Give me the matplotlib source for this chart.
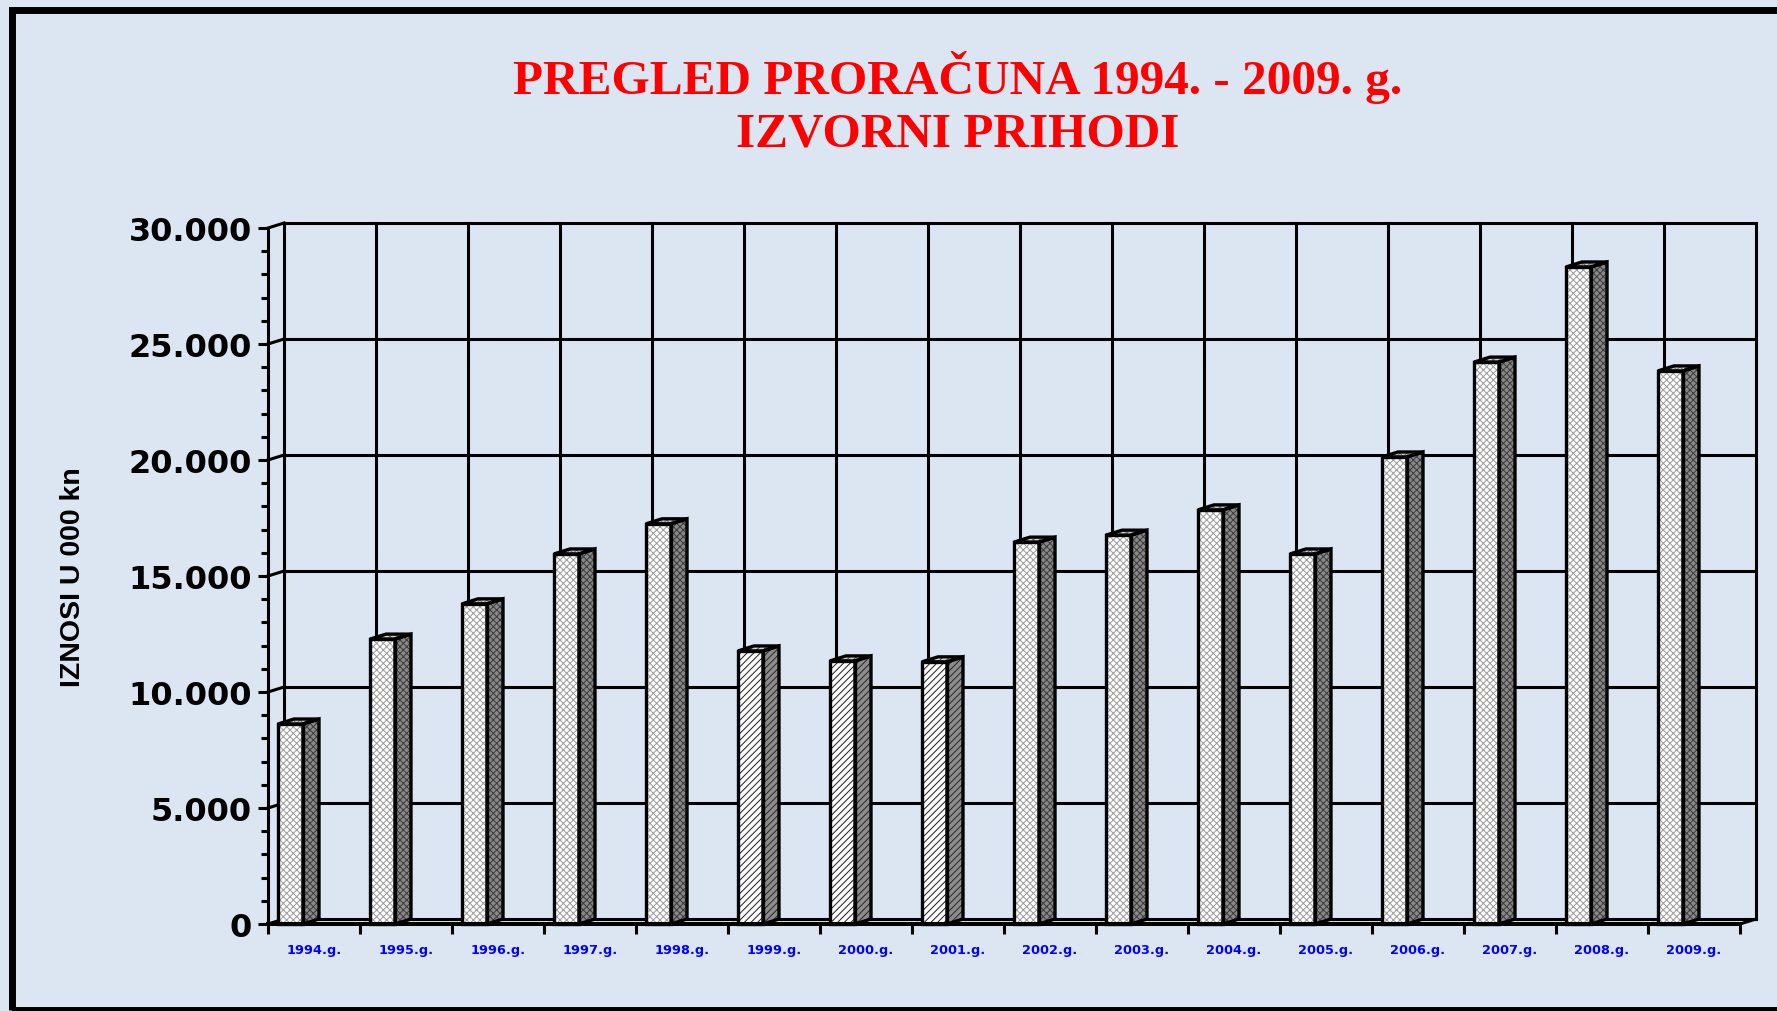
import matplotlib

matplotlib.use("Agg")
import matplotlib.pyplot as plt
from matplotlib.patches import Polygon, Rectangle
from matplotlib.ticker import MultipleLocator

# data (iznosi u 000 kn)
years = ["1994.g.", "1995.g.", "1996.g.", "1997.g.", "1998.g.", "1999.g.",
         "2000.g.", "2001.g.", "2002.g.", "2003.g.", "2004.g.", "2005.g.",
         "2006.g.", "2007.g.", "2008.g.", "2009.g."]
prihodi = [8620, 12280, 13800, 15950, 17250, 11770, 11340, 11300,
           16460, 16760, 17850, 15950, 20130, 24220, 28320, 23840]
diagonal_years = ["1999.g.", "2000.g.", "2001.g."]
y_ticks = [0, 5000, 10000, 15000, 20000, 25000, 30000]

title_1 = "PREGLED PRORAČUNA 1994. - 2009. g."
title_2 = "IZVORNI PRIHODI"
y_label = "IZNOSI U 000 kn"

BG = "#dce6f2"
W, H, DPI = 1777, 1012, 100

plt.rcParams["hatch.linewidth"] = 0.7

fig = plt.figure(figsize=(W / DPI, H / DPI), dpi=DPI, facecolor=BG)

# front plane of the axes, in pixels
ax_l, ax_r, ax_t, ax_b = 268, 1740, 229, 925
ax = fig.add_axes([ax_l / W, 1 - ax_b / H, (ax_r - ax_l) / W, (ax_b - ax_t) / H])
ax.set_facecolor("none")

n = len(years)
ymax = y_ticks[-1]
ax.set_xlim(0, n)
ax.set_ylim(0, ymax)

# depth of the fake 3d: 16 px right, 5 px up
dx = 16 / (ax_r - ax_l) * n
dy = 5 / (ax_b - ax_t) * ymax

line_kw = dict(color="black", lw=2.2, clip_on=False, solid_capstyle="projecting")

# back wall grid + side connectors
for v in y_ticks:
    ax.plot([dx, n + dx], [v + dy, v + dy], zorder=1, **line_kw)
    ax.plot([0, dx], [v, v + dy], zorder=1, **line_kw)
for k in range(n + 1):
    ax.plot([k + dx, k + dx], [dy, ymax + dy], zorder=1, **line_kw)
ax.plot([n, n + dx], [0, dy], zorder=1, **line_kw)

# bars
b0, b1 = 10 / 92, 35 / 92
for k, (yr, v) in enumerate(zip(years, prihodi)):
    if yr in diagonal_years:
        hatch = "/////"
        colors = (("white", "#1a1a1a"), ("#8c8c8c", "#262626"), ("#d0d0d0", "#444444"))
    else:
        hatch = "xxxxx"
        colors = (("white", "#9a9a9a"), ("#888888", "#3a3a3a"), ("#cfcfcf", "#707070"))
    x0, x1 = k + b0, k + b1
    front = [(x0, 0), (x1, 0), (x1, v), (x0, v)]
    side = [(x1, 0), (x1 + dx, dy), (x1 + dx, v + dy), (x1, v)]
    top = [(x0, v), (x1, v), (x1 + dx, v + dy), (x0 + dx, v + dy)]
    for poly, (fc, hc) in zip((front, side, top), colors):
        ax.add_patch(Polygon(poly, closed=True, facecolor=fc, edgecolor=hc,
                             lw=0, hatch=hatch, clip_on=False, zorder=3))
        ax.add_patch(Polygon(poly, closed=True, fill=False, edgecolor="black",
                             lw=2.4, joinstyle="miter", clip_on=False, zorder=4))

# axes
for side_name in ("top", "right"):
    ax.spines[side_name].set_visible(False)
ax.spines["left"].set_linewidth(2.2)
ax.spines["bottom"].set_linewidth(2.9)
ax.spines["bottom"].set_zorder(5)

ax.set_yticks(y_ticks, [f"{t:,}".replace(",", ".") for t in y_ticks],
              family="DejaVu Sans", fontweight="bold", fontsize=23)
ax.yaxis.set_minor_locator(MultipleLocator(1000))
ax.tick_params(axis="y", which="major", length=7.2, width=2.2, pad=4.3)
ax.tick_params(axis="y", which="minor", length=5, width=2.2)

ax.set_xticks(range(n + 1), [""] * (n + 1))
ax.set_xticks([k + 0.5 for k in range(n)], years, minor=True,
              family="DejaVu Sans", fontweight="bold", fontsize=9.3, color="#0000ff")
ax.tick_params(axis="x", which="major", length=7.2, width=2.2)
ax.tick_params(axis="x", which="minor", length=0, pad=14)

# titles
fig.text(958 / W, 1 - 94 / H, title_1, ha="center", va="baseline",
         family="Liberation Serif", fontweight="bold", fontsize=35.5, color="red")
fig.text(958 / W, 1 - 147 / H, title_2, ha="center", va="baseline",
         family="Liberation Serif", fontweight="bold", fontsize=35.5, color="red")
fig.text(73 / W, 1 - 577 / H, y_label, rotation=90, ha="center", va="center",
         family="Liberation Sans", fontweight="bold", fontsize=20.5)

# outer frame, runs off the right and bottom edge
fig.add_artist(Rectangle((12 / W, 1 - 1011 / H), (1800 - 12) / W, (1011 - 11) / H,
                         transform=fig.transFigure, fill=False, lw=5, ec="black"))

fig.savefig("out.png", dpi=DPI, facecolor=BG)
